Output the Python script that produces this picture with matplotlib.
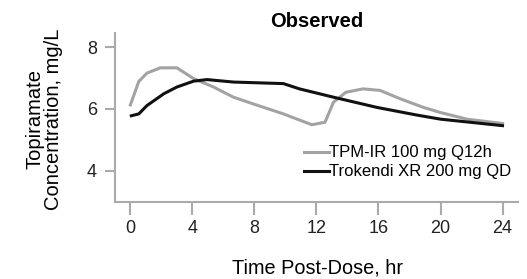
import matplotlib
matplotlib.use("Agg")
import matplotlib.pyplot as plt

plt.rcParams['font.family'] = ['Liberation Sans', 'DejaVu Sans']

ir_t = [0, 0.54, 1.07, 1.93, 3.0, 4.08, 5.36, 6.65, 7.94, 9.87, 11.7, 12.55, 13.1, 13.9, 15.0, 16.1, 17.4, 18.9, 19.96, 21.7, 24]
ir_c = [6.13, 6.89, 7.16, 7.33, 7.33, 6.98, 6.71, 6.38, 6.16, 5.84, 5.49, 5.57, 6.22, 6.54, 6.65, 6.60, 6.33, 6.05, 5.89, 5.67, 5.53]
xr_t = [0.06, 0.54, 1.07, 2.15, 3.0, 4.08, 4.94, 6.65, 9.87, 10.9, 13.1, 15.9, 18.5, 20.0, 24]
xr_c = [5.78, 5.84, 6.11, 6.49, 6.71, 6.90, 6.95, 6.87, 6.82, 6.65, 6.38, 6.05, 5.80, 5.67, 5.46]
xticks = [0, 4, 8, 12, 16, 20, 24]
yticks = [4, 6, 8]

fig = plt.figure(figsize=(5.27, 2.79), dpi=100)
ax = fig.add_axes([0.218, 0.277, 0.765, 0.604])
ax.plot(ir_t, ir_c, color='#a3a3a3', lw=2.2, label='TPM-IR 100 mg Q12h')
ax.plot(xr_t, xr_c, color='#111111', lw=2.2, label='Trokendi XR 200 mg QD')
ax.set_xlim(-1, 25)
ax.set_ylim(3, 8.45)
ax.set_xticks(xticks)
ax.set_yticks(yticks)
for s in ['top', 'right']:
    ax.spines[s].set_visible(False)
for s in ['left', 'bottom']:
    ax.spines[s].set_color('#aaaaaa')
    ax.spines[s].set_linewidth(1.5)
ax.tick_params(axis='both', colors='#aaaaaa', width=1.5, labelcolor='#222222', labelsize=13)
ax.tick_params(axis='x', length=9, pad=4.5)
ax.tick_params(axis='y', length=7.5, pad=5.5)
ax.set_title('Observed', fontsize=14.5, fontweight='bold', pad=4.8)
ax.set_xlabel('Time Post-Dose, hr', fontsize=14.3)
ax.xaxis.set_label_coords(0.502, -0.335)
ax.set_ylabel('Topiramate\nConcentration, mg/L', fontsize=14.5, linespacing=0.95)
ax.yaxis.set_label_coords(-0.129, 0.491)
ax.legend(loc='upper left', bbox_to_anchor=(0.468, 0.334), frameon=False, fontsize=12,
          handlelength=1.5, handletextpad=0.05, labelspacing=0.24, borderaxespad=0, borderpad=0)
fig.savefig('out.png', dpi=100)
